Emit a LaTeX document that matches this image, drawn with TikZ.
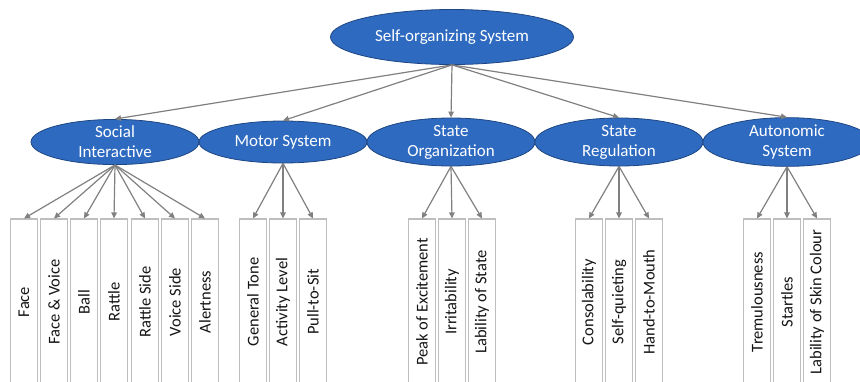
\documentclass[tikz,border=0pt]{standalone}
\usepackage{fontspec}
\setmainfont{Carlito}
\usetikzlibrary{shapes.geometric}
\usetikzlibrary{arrows.meta}
\definecolor{ovalblue}{RGB}{46,106,192}
\definecolor{ovaledge}{RGB}{30,70,130}
\definecolor{linegray}{RGB}{128,128,128}
\definecolor{boxgray}{RGB}{190,190,190}
\definecolor{textdark}{RGB}{20,20,20}

\begin{document}
\begin{tikzpicture}[x=1pt, y=-1pt,
    main/.style = {draw=ovaledge, fill=ovalblue, ellipse, text=white, inner sep=0pt, line width=0.8pt},
    sub/.style = {main, minimum width=168pt, minimum height=42pt, align=center, font=\fontsize{17}{20}\selectfont},
    box/.style = {draw=boxgray, line width=1.1pt, rotate=90, minimum width=166pt, minimum height=27pt, inner sep=0pt, text=textdark, font=\fontsize{16.5}{18}\selectfont},
    arr/.style = {draw=linegray, line width=1.2pt, -{Triangle[length=6pt, width=5.5pt]}}]
    \useasboundingbox (0,0) rectangle (860,381);
    \clip (0,0) rectangle (860,381);

    % root and the five subsystems
    \node[main, minimum width=243pt, minimum height=55pt, font=\fontsize{17}{20}\selectfont] (0) at (452,37) {Self-organizing System};
    \node[sub] (1) at (115,142) {Social\\Interactive};
    \node[sub] (2) at (283,142) {Motor System};
    \node[sub] (3) at (451,142) {State\\Organization};
    \node[sub] (4) at (619,142) {State\\Regulation};
    \node[sub] (5) at (787,142) {Autonomic\\System};

    % items
    \node[box] (1a) at (24,302) {Face};
    \node[box] (1b) at (54,302) {Face \& Voice};
    \node[box] (1c) at (84,302) {Ball};
    \node[box] (1d) at (114,302) {Rattle};
    \node[box] (1e) at (145,302) {Rattle Side};
    \node[box] (1f) at (175,302) {Voice Side};
    \node[box] (1g) at (205,302) {Alertness};

    \node[box] (2a) at (253,302) {General Tone};
    \node[box] (2b) at (283,302) {Activity Level};
    \node[box] (2c) at (313,302) {Pull-to-Sit};

    \node[box] (3a) at (422,302) {Peak of Excitement};
    \node[box] (3b) at (452,302) {Irritability};
    \node[box] (3c) at (482,302) {Lability of State};

    \node[box] (4a) at (589,302) {Consolability};
    \node[box] (4b) at (619,302) {Self-quieting};
    \node[box] (4c) at (649,302) {Hand-to-Mouth};

    \node[box] (5a) at (757,302) {Tremulousness};
    \node[box] (5b) at (787,302) {Startles};
    \node[box] (5c) at (817,302) {Lability of Skin Colour};

    \foreach \k in {1,...,5}
        \draw[arr] (0.south) -- (\k.north);

    \foreach \i in {a,...,g}
        \draw[arr] (1.south) -- (1\i.east);
    \foreach \g in {2,...,5}
        \foreach \i in {a,b,c}
            \draw[arr] (\g.south) -- (\g\i.east);
\end{tikzpicture}
\end{document}
